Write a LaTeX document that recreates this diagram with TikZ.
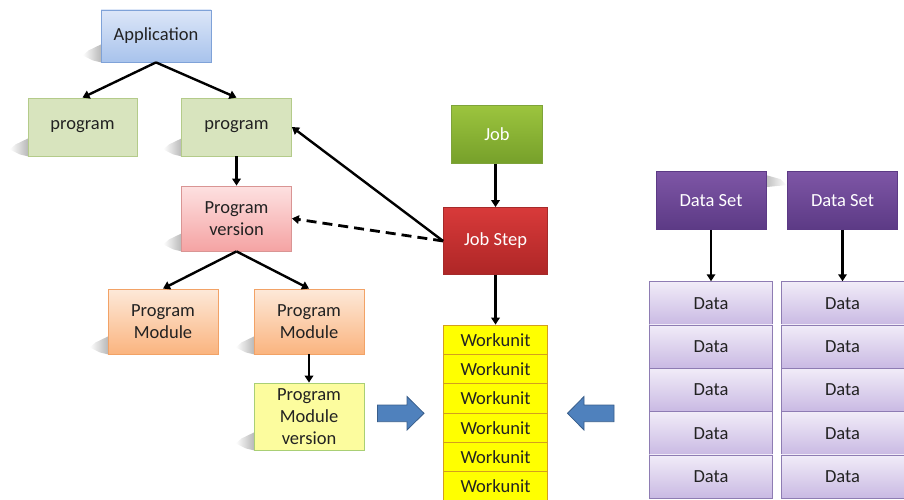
\documentclass[tikz,border=0pt]{standalone}
\usepackage{fontspec}
\setmainfont{Carlito}
\usetikzlibrary{arrows.meta,backgrounds,calc}
\newcommand\diagfont{\fontsize{18.5}{21.7}\selectfont}
\definecolor{txt}{HTML}{222222}
\definecolor{arrblue}{HTML}{4F81BD}
\definecolor{arrblueb}{HTML}{385D8A}
\definecolor{appD}{HTML}{7FA2D8}
\definecolor{appT}{HTML}{DCE6F8}
\definecolor{appB}{HTML}{A8C3EC}
\definecolor{progD}{HTML}{B4CB8A}
\definecolor{progF}{HTML}{D8E4BE}
\definecolor{verD}{HTML}{D99594}
\definecolor{verT}{HTML}{FDE1E1}
\definecolor{verB}{HTML}{F5A3A3}
\definecolor{modD}{HTML}{F2A266}
\definecolor{modT}{HTML}{FDE9D9}
\definecolor{modB}{HTML}{FAB47F}
\definecolor{mvD}{HTML}{A9CF75}
\definecolor{mvF}{HTML}{FCFC9E}
\definecolor{jobD}{HTML}{7EA33A}
\definecolor{jobT}{HTML}{9CC43E}
\definecolor{jobB}{HTML}{76A02A}
\definecolor{stepD}{HTML}{A52A2A}
\definecolor{stepT}{HTML}{D83A3A}
\definecolor{stepB}{HTML}{AE2626}
\definecolor{wuD}{HTML}{D39F1E}
\definecolor{wuF}{HTML}{FFFF00}
\definecolor{dsD}{HTML}{5C3A85}
\definecolor{dsT}{HTML}{7E56A6}
\definecolor{dD}{HTML}{8E7CB3}
\definecolor{dT}{HTML}{F1ECF8}
\definecolor{dB}{HTML}{C9B9E3}
\tikzset{
  box/.style={draw, line width=0.8pt, inner sep=0pt, align=center, font=\diagfont, text=txt},
  appbox/.style={box, draw=appD, top color=appT, bottom color=appB},
  progbox/.style={box, draw=progD, fill=progF},
  verbox/.style={box, draw=verD, top color=verT, bottom color=verB},
  modbox/.style={box, draw=modD, top color=modT, bottom color=modB},
  mvbox/.style={box, draw=mvD, fill=mvF},
  jobbox/.style={box, draw=jobD, top color=jobT, bottom color=jobB, text=white},
  stepbox/.style={box, draw=stepD, top color=stepT, bottom color=stepB, text=white},
  wubox/.style={box, draw=wuD, fill=wuF, minimum width=104.5pt, minimum height=29.33pt},
  dsbox/.style={box, draw=dsD, top color=dsT, bottom color=dsD, text=white, minimum width=110pt, minimum height=58pt},
  databox/.style={box, draw=dD, top color=dT, bottom color=dB, minimum height=43.33pt},
  conn/.style={line width=2.4pt, -{Triangle[length=7pt,width=8.5pt]}},
  shad/.style={left color=white, right color=black!28, draw=none},
  bigarrow/.style={fill=arrblue, draw=arrblueb, line width=0.8pt, line join=miter},
}
\begin{document}
\begin{tikzpicture}[x=1pt,y=-1pt]
\useasboundingbox (0,0) rectangle (904,500);
\clip (0,0) rectangle (904,500);

% left tree
\node[appbox, minimum width=110pt, minimum height=52pt] (app) at (156,36) {Application};
\node[progbox, minimum width=109pt, minimum height=58pt] (progL) at (82.5,127) {program};
\node[progbox, minimum width=110pt, minimum height=58pt] (progR) at (236.5,127) {program};
\node[verbox, minimum width=110pt, minimum height=65pt] (pver) at (236.5,218.5) {Program\\version};
\node[modbox, minimum width=110pt, minimum height=65pt] (pmL) at (163,321.5) {Program\\Module};
\node[modbox, minimum width=110pt, minimum height=65pt] (pmR) at (309,321.5) {Program\\Module};
\node[mvbox, minimum width=110pt, minimum height=67pt] (pmv) at (309,416.5) {Program\\Module\\version};

% job
\node[jobbox, minimum width=91pt, minimum height=58pt] (job) at (497,134.5) {Job};
\node[stepbox, minimum width=104pt, minimum height=67pt] (jstep) at (495.5,241) {Job Step};

% workunits
\foreach \i in {0,...,5} {
  \node[wubox] (wu\i) at (495.5,{339.67+29.33*\i}) {Workunit};
}

% data sets
\node[dsbox] (dsL) at (711,200.5) {Data Set};
\node[dsbox] (dsR) at (842.5,200.5) {Data Set};
\foreach \i in {0,...,4} {
  \node[databox, minimum width=123.5pt] (dL\i) at (711,{303.33+43.33*\i}) {Data};
  \node[databox, minimum width=123pt] (dR\i) at (842.5,{303.33+43.33*\i}) {Data};
}

% shadows
\begin{pgfonlayer}{background}
\foreach \n in {app,progL,progR,pver,pmL,pmR,pmv} {
  \shade[shad] ($(\n.south west)+(0.5pt,18pt)$) -- ($(\n.south west)+(-12pt,12pt)$)
    -- ($(\n.south west)+(-18pt,7pt)$) -- ($(\n.south west)+(-8pt,2pt)$) -- ($(\n.south west)+(0.5pt,0pt)$) -- cycle;
}
\shade[left color=black!25, right color=white, draw=none] ($(dsL.north east)+(-0.5pt,-4pt)$) -- ($(dsL.north east)+(14pt,-8pt)$)
  -- ($(dsL.north east)+(20pt,-14pt)$) -- ($(dsL.north east)+(-0.5pt,-16pt)$) -- cycle;
\end{pgfonlayer}

% connectors
\draw[conn] (app.south) -- (progL.north);
\draw[conn] (app.south) -- (progR.north);
\draw[conn] (progR.south) -- (pver.north);
\draw[conn] (pver.south) -- (pmL.north);
\draw[conn] (pver.south) -- (pmR.north);
\draw[conn] (pmR.south) -- (pmv.north);
\draw[conn] (job.south -| jstep.north) -- (jstep.north);
\draw[conn] (jstep.south) -- (wu0.north);
\draw[conn] (jstep.west) -- (progR.east);
\draw[conn, line width=2.8pt, dash pattern=on 10pt off 6pt] (jstep.west) -- (pver.east);
\draw[conn] (dsL.south) -- (dL0.north);
\draw[conn] (dsR.south) -- (dR0.north);

% big blue arrows
\draw[bigarrow] (377.5,405) -- (407,405) -- (407,396.5) -- (424,413.3) -- (407,430) -- (407,421.7) -- (377.5,421.7) -- cycle;
\draw[bigarrow] (614,405) -- (584,405) -- (584,396.5) -- (567.5,413.3) -- (584,430) -- (584,421.7) -- (614,421.7) -- cycle;
\end{tikzpicture}
\end{document}
